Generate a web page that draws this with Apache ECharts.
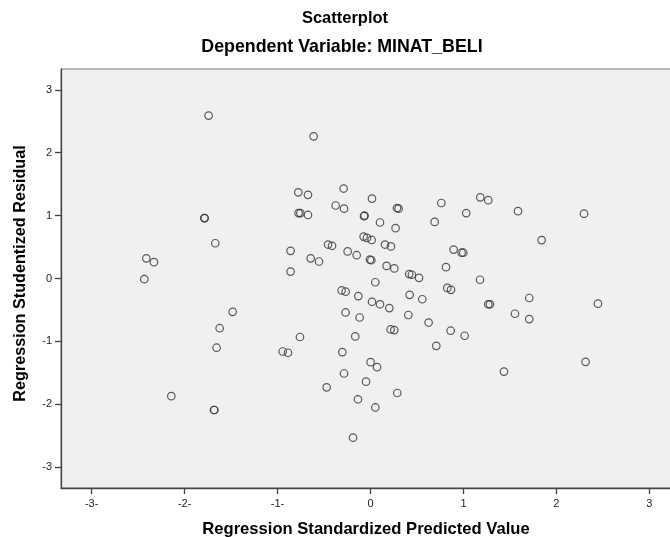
<!DOCTYPE html>
<html>
<head>
<meta charset="utf-8">
<script src="https://cdn.jsdelivr.net/npm/echarts@6/dist/echarts.min.js"></script>
<style>
  html, body { margin: 0; padding: 0; background: #fff; }
  #main { width: 670px; height: 537px; }
</style>
</head>
<body>
<div id="main"></div>
<script>
// Regression Standardized Predicted Value (x) and Studentized Residual (y)
const predicted = [
  -1.742, -0.612, -0.777, -0.673, -0.774, -0.755, -0.673, -1.788, -1.784, -1.670,
  -2.412, -2.330, -2.434, -0.860, -0.860, -0.644, -0.554, -0.457, -0.414, -0.375,
  -1.483, -1.623, -1.656, -0.759, -0.945, -0.888, -2.143, -1.684, -1.680, -0.472,
  -0.289, 0.016, -0.285, 0.285, 0.302, 0.762, 1.181, 1.267, -0.070, -0.064,
  0.102, 0.270, 0.690, 1.030, -0.074, -0.038, 0.012, -0.246, -0.149, -0.006,
  0.009, 0.156, 0.220, 0.173, 0.256, 0.417, 0.446, 0.522, 0.894, 0.980,
  0.998, 0.812, 1.178, 0.052, -0.311, -0.268, -0.131, 0.016, 0.102, 0.202,
  0.421, 0.557, 0.826, 0.866, 1.267, 1.285, -0.268, -0.117, 0.407, 0.625,
  0.216, 0.256, 0.862, 1.013, -0.164, 0.708, -0.303, 0.001, 0.070, -0.285,
  -0.048, 0.288, -0.135, 0.052, -0.188, 1.587, 2.297, 1.841, 1.708, 2.447,
  1.554, 1.708, 2.314, 1.436
];
const residual = [
  2.59, 2.26, 1.37, 1.33, 1.04, 1.04, 1.01, 0.96, 0.96, 0.56,
  0.32, 0.26, -0.01, 0.44, 0.11, 0.32, 0.27, 0.54, 0.52, 1.16,
  -0.53, -0.79, -1.10, -0.93, -1.16, -1.18, -1.87, -2.09, -2.09, -1.73,
  1.43, 1.27, 1.11, 1.12, 1.11, 1.20, 1.29, 1.245, 0.99, 1.00,
  0.89, 0.80, 0.90, 1.04, 0.666, 0.645, 0.613, 0.43, 0.37, 0.30,
  0.29, 0.54, 0.51, 0.20, 0.16, 0.07, 0.06, 0.01, 0.46, 0.41,
  0.41, 0.18, -0.02, -0.06, -0.19, -0.21, -0.28, -0.37, -0.41, -0.47,
  -0.26, -0.33, -0.15, -0.18, -0.41, -0.41, -0.54, -0.62, -0.58, -0.70,
  -0.81, -0.82, -0.83, -0.91, -0.92, -1.07, -1.17, -1.33, -1.41, -1.51,
  -1.64, -1.82, -1.92, -2.05, -2.53, 1.07, 1.03, 0.61, -0.31, -0.40,
  -0.56, -0.645, -1.325, -1.48
];
const xTicks = [-3, -2, -1, 0, 1, 2, 3];
const yTicks = [-3, -2, -1, 0, 1, 2, 3];

const points = predicted.map((x, i) => [x, residual[i]]);

const font = "'Liberation Sans', Arial, sans-serif";

var myChart = echarts.init(document.getElementById("main"), null, { renderer: "canvas" });
myChart.setOption({
  animation: false,
  backgroundColor: "#fff",
  title: [
    {
      text: "Scatterplot",
      left: 340, top: 5, textAlign: "center",
      textStyle: { fontFamily: font, fontSize: 16.5, fontWeight: "bold", color: "#000" }
    },
    {
      text: "Dependent Variable: MINAT_BELI",
      left: 337, top: 33, textAlign: "center",
      textStyle: { fontFamily: font, fontSize: 17.8, fontWeight: "bold", color: "#000" }
    }
  ],
  grid: {
    left: 61, top: 69, right: -1, bottom: 49,
    outerBoundsMode: "none",
    show: true,
    backgroundColor: "#f0f0f0",
    borderColor: "#777",
    borderWidth: 1
  },
  xAxis: {
    type: "value",
    min: -3.33, max: 3.233,
    name: "Regression Standardized Predicted Value",
    nameLocation: "middle",
    nameGap: 33,
    nameTextStyle: { fontFamily: font, fontSize: 16.6, fontWeight: "bold", color: "#000" },
    axisLine: { show: true, onZero: false, lineStyle: { color: "#444", width: 1.3 } },
    axisTick: { show: true, length: 6, customValues: xTicks, lineStyle: { color: "#444", width: 1.3 } },
    axisLabel: {
      customValues: xTicks,
      margin: 10,
      fontFamily: font, fontSize: 11, color: "#222",
      formatter: (v) => (v < 0 ? v + "-" : String(v))
    },
    splitLine: { show: false }
  },
  yAxis: {
    type: "value",
    min: -3.33, max: 3.33,
    name: "Regression Studentized Residual",
    nameLocation: "middle",
    nameGap: 32,
    nameTextStyle: {
      fontFamily: font, fontSize: 16.2, fontWeight: "bold", color: "#000",
      padding: [0, 0, 0, 10]
    },
    axisLine: { show: true, onZero: false, lineStyle: { color: "#444", width: 1.3 } },
    axisTick: { show: true, length: 6, customValues: yTicks, lineStyle: { color: "#444", width: 1.3 } },
    axisLabel: {
      customValues: yTicks,
      margin: 9,
      fontFamily: font, fontSize: 11, color: "#222"
    },
    splitLine: { show: false }
  },
  series: [
    {
      type: "scatter",
      data: points,
      symbol: "circle",
      symbolSize: 7.5,
      itemStyle: { color: "rgba(0,0,0,0)", borderColor: "#333", borderWidth: 1.2 },
      emphasis: { disabled: true }
    }
  ]
});
</script>
</body>
</html>
